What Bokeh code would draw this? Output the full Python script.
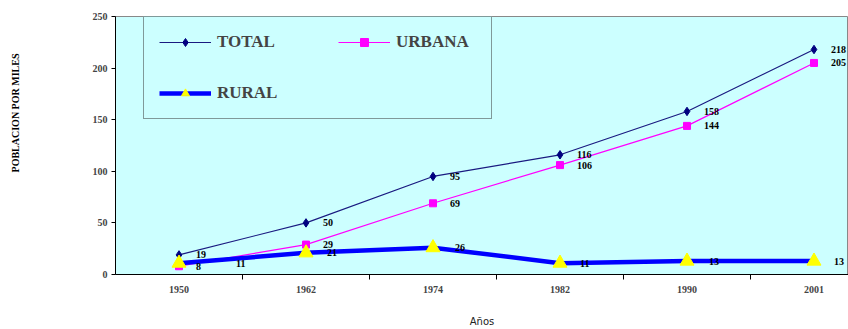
from bokeh.plotting import figure
from bokeh.models import (ColumnDataSource, FixedTicker, Legend, LegendItem,
                          Range1d)
from bokeh.embed import file_html
from bokeh.resources import INLINE
from bokeh.core.properties import value

# Census years and population (thousands)
years = ["1950", "1962", "1974", "1982", "1990", "2001"]
total = [19, 50, 95, 116, 158, 218]
urbana = [8, 29, 69, 106, 144, 205]
rural = [11, 21, 26, 11, 13, 13]
y_ticks = [0, 50, 100, 150, 200, 250]

# each year occupies one unit-wide slot; points sit at slot centres
slots = [i + 0.5 for i in range(len(years))]
boundaries = list(range(1, len(years)))

SERIF = value("Liberation Serif")

p = figure(width=848, height=329, output_backend="svg", toolbar_location=None,
           x_range=Range1d(0, 733 / 127), y_range=Range1d(0, 250),
           min_border_left=115, min_border_right=0, min_border_top=16,
           min_border_bottom=51)
p.background_fill_color = "#CCFFFF"
p.border_fill_color = "white"
p.outline_line_color = "#888888"
p.grid.visible = False

src_t = ColumnDataSource(dict(x=slots, y=total, t=[str(v) for v in total]))
src_u = ColumnDataSource(dict(x=slots, y=urbana, t=[str(v) for v in urbana]))
src_r = ColumnDataSource(dict(x=slots, y=rural, t=[str(v) for v in rural],
                              dx=[57, 21, 22, 20, 22, 20]))

# TOTAL: navy line with diamonds
t_line = p.line("x", "y", source=src_t, line_color="#1A1A80", line_width=1.2)
t_mark = p.scatter("x", "y", source=src_t, marker="diamond", size=8.5,
                   fill_color="#000080", line_color="#000080")

# URBANA: magenta line with squares
u_line = p.line("x", "y", source=src_u, line_color="#FF00FF", line_width=1.2)
u_mark = p.scatter("x", "y", source=src_u, marker="square", size=7,
                   fill_color="#FF00FF", line_color="#FF00FF")

# RURAL: thick blue line with yellow triangles
r_line = p.line("x", "y", source=src_r, line_color="#0000FF", line_width=4.5)
r_mark = p.scatter("x", "y", source=src_r, marker="triangle", size=14,
                   fill_color="#FFFF00", line_color="#FFFF00")

lbl = dict(text="t", text_font=SERIF, text_font_style="bold",
           text_font_size="10px", text_color="black", text_baseline="middle",
           text_align="left")
p.text("x", "y", source=src_t, x_offset=17, **lbl)
p.text("x", "y", source=src_u, x_offset=17, **lbl)
p.text("x", "y", source=src_r, x_offset="dx", **lbl)

# x axis: year labels at slot centres, tick marks at slot boundaries
xa = p.xaxis[0]
xa.ticker = FixedTicker(ticks=slots, minor_ticks=boundaries)
xa.major_label_overrides = {s: y for s, y in zip(slots, years)}
xa.major_tick_line_color = None
xa.major_tick_out = 0
xa.major_tick_in = 0
xa.minor_tick_line_color = "black"
xa.minor_tick_out = 5
xa.minor_tick_in = 0
xa.axis_line_color = "black"
xa.major_label_text_font = "Liberation Serif"
xa.major_label_text_font_style = "bold"
xa.major_label_text_font_size = "10px"
xa.major_label_standoff = 6
xa.axis_label = "Años"
xa.axis_label_text_font = "DejaVu Sans"
xa.axis_label_text_font_style = "normal"
xa.axis_label_text_font_size = "10px"
xa.axis_label_text_color = "#222222"
xa.axis_label_standoff = 20

ya = p.yaxis[0]
ya.ticker = FixedTicker(ticks=y_ticks)
ya.major_tick_out = 4
ya.major_tick_in = 0
ya.minor_tick_line_color = None
ya.axis_line_color = "black"
ya.major_label_text_font = "Liberation Serif"
ya.major_label_text_font_style = "bold"
ya.major_label_text_font_size = "10px"
ya.major_label_standoff = 4
# non-breaking spaces at the start lift the title above the axis centre
ya.axis_label = "\u00a0" * 26 + "POBLACION POR MILES"
ya.axis_label_text_font = "Liberation Serif"
ya.axis_label_text_font_style = "bold"
ya.axis_label_text_font_size = "10px"
ya.axis_label_text_color = "black"
ya.axis_label_standoff = 69

LEGEND_FONT = dict(label_text_font="Liberation Serif",
                   label_text_font_style="bold", label_text_font_size="17px",
                   glyph_width=52, glyph_height=20, label_height=20,
                   label_standoff=6, padding=15, spacing=31, margin=0)

# boxed legend: TOTAL above RURAL, wide enough to hold the URBANA entry
legend_main = Legend(items=[
    LegendItem(label="TOTAL", renderers=[t_line, t_mark]),
    LegendItem(label="RURAL", renderers=[r_line, r_mark]),
], location=(28, 155), label_width=259, **LEGEND_FONT)
legend_main.border_line_color = "#333333"
legend_main.border_line_width = 1.5
legend_main.background_fill_color = "#CCFFFF"
legend_main.background_fill_alpha = 1
p.add_layout(legend_main, "center")

# second column of the legend, drawn inside the same box
legend_urb = Legend(items=[
    LegendItem(label="URBANA", renderers=[u_line, u_mark]),
], location=(223, 222), **LEGEND_FONT)
legend_urb.border_line_color = None
legend_urb.background_fill_alpha = 0
p.add_layout(legend_urb, "center")

open("out.html", "w").write(file_html(p, INLINE))
